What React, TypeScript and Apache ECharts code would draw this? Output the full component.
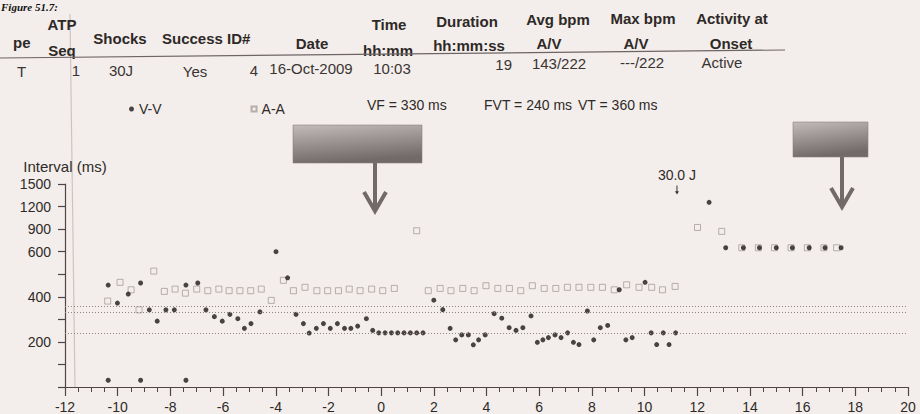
import React, { useEffect, useRef } from "react";
import * as echarts from "echarts";

// ---------- data ----------
// V-V intervals: time (s) and interval (ms)
const vvTime = [
  -10.36, -10.36, -10.01, -9.6, -9.13, -9.13, -8.8, -8.5, -8.17, -7.85, -7.41, -7.41,
  -6.96, -6.65, -6.33, -6.03, -5.74, -5.44, -5.19, -4.94, -4.6, -3.99, -3.55, -3.23,
  -2.95, -2.73, -2.46, -2.19, -1.93, -1.66, -1.39, -1.15, -0.89, -0.56, -0.32, -0.09,
  0.15, 0.39, 0.63, 0.87, 1.11, 1.35, 1.59, 2.0, 2.34, 2.62, 2.83, 3.06, 3.31, 3.5,
  3.7, 3.95, 4.29, 4.58, 4.86, 5.12, 5.38, 5.69, 5.93, 6.14, 6.35, 6.6, 6.83, 7.08,
  7.3, 7.51, 7.83, 8.07, 8.32, 8.6, 9.04, 9.29, 9.53, 10.02, 10.25, 10.46, 10.71,
  10.93, 11.18, 12.45, 13.08, 13.75, 14.36, 15.0, 15.61, 16.25, 16.85, 17.46,
];
const vvMs = [
  452, 30, 372, 412, 461, 30, 342, 292, 342, 342, 452, 30,
  461, 342, 312, 292, 322, 303, 260, 281, 333, 600, 484, 322,
  281, 239, 260, 281, 260, 281, 260, 260, 270, 303, 251, 240,
  240, 240, 240, 240, 240, 240, 240, 385, 343, 260, 209, 231, 231, 187,
  209, 231, 325, 305, 263, 251, 263, 315, 198, 209, 219, 231, 219, 240,
  198, 188, 337, 209, 263, 273, 431, 209, 219, 464, 240, 188, 240,
  188, 240, 1256, 652, 652, 652, 652, 652, 652, 652, 652,
];
// A-A intervals
const aaTime = [
  -10.38, -9.91, -9.49, -9.19, -8.63, -8.23, -7.82, -7.43, -7.0, -6.58, -6.16, -5.77,
  -5.36, -4.95, -4.55, -4.17, -3.71, -3.33, -2.89, -2.44, -2.03, -1.62, -1.21, -0.8,
  -0.36, 0.06, 0.5, 1.35, 1.79, 2.24, 2.65, 3.1, 3.53, 3.98, 4.43, 4.87, 5.3, 5.74,
  6.19, 6.63, 7.07, 7.51, 7.96, 8.4, 8.85, 9.32, 9.79, 10.27, 10.68, 11.16, 12.01,
  12.93, 13.69, 14.32, 14.93, 15.56, 16.18, 16.81, 17.29,
];
const aaMs = [
  381, 464, 431, 342, 514, 424, 434, 416, 434, 427, 434, 427,
  427, 427, 434, 384, 473, 427, 442, 427, 427, 427, 434, 427,
  434, 427, 437, 878, 427, 437, 427, 437, 427, 449, 437, 437, 427, 449,
  437, 437, 442, 442, 442, 442, 431, 453, 442, 442, 431, 446, 922,
  870, 652, 652, 652, 652, 652, 652, 652,
];
// detection zones (order as printed)
const zoneNames = ["VF", "FVT", "VT"];
const zoneMs = [330, 240, 360];
// y tick labels (axis is linear to 600 ms, compressed above)
const yTickLabels = ["", "", "200", "", "400", "", "600", "900", "1200", "1500"];
// shock annotation
const shockTime = 11.23;
const shockMarkMs = 1420;
const shockLabel = "30.0 J";
// episode table
const figureTitle = "Figure 51.7:";
const tableHeaders = [
  "pe", "ATP", "Seq", "Shocks", "Success ID#", "Date", "Time", "hh:mm", "Duration",
  "hh:mm:ss", "Avg bpm", "A/V", "Max bpm", "A/V", "Activity at", "Onset",
];
const tableRow = ["T", "1", "30J", "Yes", "4", "16-Oct-2009", "10:03", "19", "143/222", "---/222", "Active"];

// ---------- layout ----------
const headerPos: [number, number, string][] = [
  [13, 42, "left"], [62, 24, "center"], [62, 50, "center"], [120, 38, "center"],
  [162, 38, "left"], [312, 43, "center"], [389, 24, "center"], [388, 50, "center"],
  [467, 21, "center"], [469, 45, "center"], [558, 19, "center"], [549, 43, "center"],
  [643, 18, "center"], [636, 43, "center"], [732, 18, "center"], [731, 43, "center"],
];
const rowPos: [number, number, string][] = [
  [17, 71, "left"], [76, 70, "center"], [121, 70, "center"], [195, 71, "center"],
  [258, 70, "right"], [311, 68, "center"], [392, 68, "center"], [512, 64, "right"],
  [559, 63, "center"], [642, 62, "center"], [722, 62, "center"],
];
const zonePos: [number, number][] = [[367, 105], [484, 105], [578, 105]];

const FONT = '"Liberation Sans", Arial, Helvetica, sans-serif';
const BG = "#f3eeeb";
const INK = "#2f2a28";
const AXIS = "#4d4644";

const toAxis = (ms: number) => (ms <= 600 ? ms : 600 + (ms - 600) / 3);

function text(t: string, x: number, y: number, align: string, size: number, weight: string, fill: string) {
  return {
    type: "text",
    x,
    y,
    silent: true,
    style: {
      text: t,
      fill,
      fontSize: size,
      fontWeight: weight,
      fontFamily: FONT,
      align,
      verticalAlign: "middle",
    },
  };
}

function box(x: number, y: number, w: number, h: number, ax: number, tip: number) {
  const arrowColor = "#716a68";
  return [
    {
      type: "rect",
      shape: { x, y, width: w, height: h },
      silent: true,
      style: {
        fill: {
          type: "linear",
          x: 0,
          y: 0,
          x2: 0.25,
          y2: 1,
          colorStops: [
            { offset: 0, color: "#c2bbb9" },
            { offset: 1, color: "#716a68" },
          ],
        },
        stroke: "#8a8280",
        lineWidth: 0.6,
      },
    },
    {
      type: "line",
      silent: true,
      shape: { x1: ax, y1: y + h, x2: ax, y2: tip - 2 },
      style: { stroke: arrowColor, lineWidth: 4 },
    },
    {
      type: "polyline",
      silent: true,
      shape: { points: [[ax - 11, tip - 19], [ax, tip], [ax + 11, tip - 19]] },
      style: { stroke: arrowColor, lineWidth: 4, fill: "none" },
    },
  ];
}

function buildOption() {
  const graphics: any[] = [];
  graphics.push({
    type: "text",
    x: 1,
    y: 1,
    silent: true,
    style: {
      text: figureTitle,
      fill: "#111",
      fontSize: 11,
      fontWeight: "bold",
      fontStyle: "italic",
      fontFamily: '"Liberation Serif", "Times New Roman", serif',
      verticalAlign: "top",
    },
  });
  graphics.push({
    type: "line",
    silent: true,
    shape: { x1: 70, y1: 14, x2: 75, y2: 388 },
    style: { stroke: "#cdc4c0", lineWidth: 1.2 },
  });
  tableHeaders.forEach((h, i) => {
    const p = headerPos[i];
    graphics.push(text(h, p[0], p[1], p[2], 15, "bold", "#2e2927"));
  });
  graphics.push({
    type: "line",
    silent: true,
    shape: { x1: 0, y1: 58, x2: 785, y2: 50 },
    style: { stroke: "#6d6563", lineWidth: 1.2 },
  });
  tableRow.forEach((v, i) => {
    const p = rowPos[i];
    graphics.push(text(v, p[0], p[1], p[2], 15, "normal", "#3a3432"));
  });
  zoneNames.forEach((n, i) => {
    const p = zonePos[i];
    graphics.push(text(`${n} = ${zoneMs[i]} ms`, p[0], p[1], "left", 14, "normal", INK));
  });
  graphics.push(...box(293, 125, 129, 38, 375, 211));
  graphics.push(...box(793, 122, 75, 35, 842, 207));

  return {
    animation: false,
    backgroundColor: BG,
    textStyle: { fontFamily: FONT },
    grid: { left: 65, right: 12, top: 184, bottom: 27, outerBoundsMode: "none" },
    legend: {
      left: 124,
      top: 97,
      itemWidth: 5,
      itemHeight: 5,
      itemGap: 89,
      selectedMode: false,
      textStyle: { fontSize: 14, color: INK, fontFamily: FONT },
      data: [
        { name: "V-V", icon: "circle" },
        { name: "A-A", icon: "rect" },
      ],
    },
    xAxis: {
      type: "value",
      min: -12,
      max: 20,
      interval: 2,
      axisLine: { show: true, onZero: false, lineStyle: { color: AXIS, width: 1.2 } },
      axisTick: { show: true, length: 9, lineStyle: { color: AXIS, width: 1.2 } },
      minorTick: { show: true, splitNumber: 4, length: 5, lineStyle: { color: AXIS, width: 1 } },
      splitLine: { show: false },
      minorSplitLine: { show: false },
      axisLabel: { fontSize: 14, color: INK, margin: 13, fontFamily: FONT },
    },
    yAxis: {
      type: "value",
      min: 0,
      max: 900,
      interval: 100,
      name: "Interval (ms)",
      nameLocation: "end",
      nameGap: 10,
      nameTextStyle: { fontSize: 15, color: INK, fontFamily: FONT },
      axisLine: { show: true, onZero: false, lineStyle: { color: AXIS, width: 1.2 } },
      axisTick: { show: true, length: 7, lineStyle: { color: AXIS, width: 1.2 } },
      splitLine: { show: false },
      axisLabel: {
        fontSize: 14,
        color: INK,
        margin: 14,
        fontFamily: FONT,
        formatter: (v: number) => yTickLabels[Math.round(v / 100)] ?? "",
      },
    },
    series: [
      {
        name: "A-A",
        type: "scatter",
        symbol: "rect",
        symbolSize: 6,
        z: 2,
        itemStyle: { color: BG, borderColor: "#a69e9b", borderWidth: 1 },
        data: aaTime.map((t, i) => [t, toAxis(aaMs[i])]),
      },
      {
        name: "V-V",
        type: "scatter",
        symbol: "circle",
        symbolSize: 5,
        z: 3,
        itemStyle: { color: "#1d1817" },
        data: vvTime.map((t, i) => [t, toAxis(vvMs[i])]),
        markLine: {
          silent: true,
          symbol: ["none", "none"],
          label: { show: false },
          lineStyle: { color: "#8f8684", type: [1, 2], width: 1 },
          data: zoneMs.map((ms) => ({ yAxis: toAxis(ms) })),
        },
        markPoint: {
          silent: true,
          symbol: "path://M1.5,0 L2.5,0 L2.5,7 L4,7 L2,11 L0,7 L1.5,7 Z",
          symbolSize: [4, 9],
          itemStyle: { color: "#3a3432" },
          label: {
            show: true,
            position: "top",
            distance: 4,
            formatter: shockLabel,
            color: INK,
            fontSize: 14,
            fontFamily: FONT,
          },
          data: [{ coord: [shockTime, toAxis(shockMarkMs)] }],
        },
      },
    ],
    graphic: { elements: graphics },
  };
}

export default function App() {
  const ref = useRef<HTMLDivElement>(null);
  useEffect(() => {
    if (!ref.current) return;
    const chart = echarts.init(ref.current, null, { renderer: "svg" });
    chart.setOption(buildOption() as any);
    return () => chart.dispose();
  }, []);
  return (
    <div
      ref={ref}
      style={{ position: "fixed", left: 0, top: 0, width: 920, height: 414, background: BG }}
    />
  );
}
